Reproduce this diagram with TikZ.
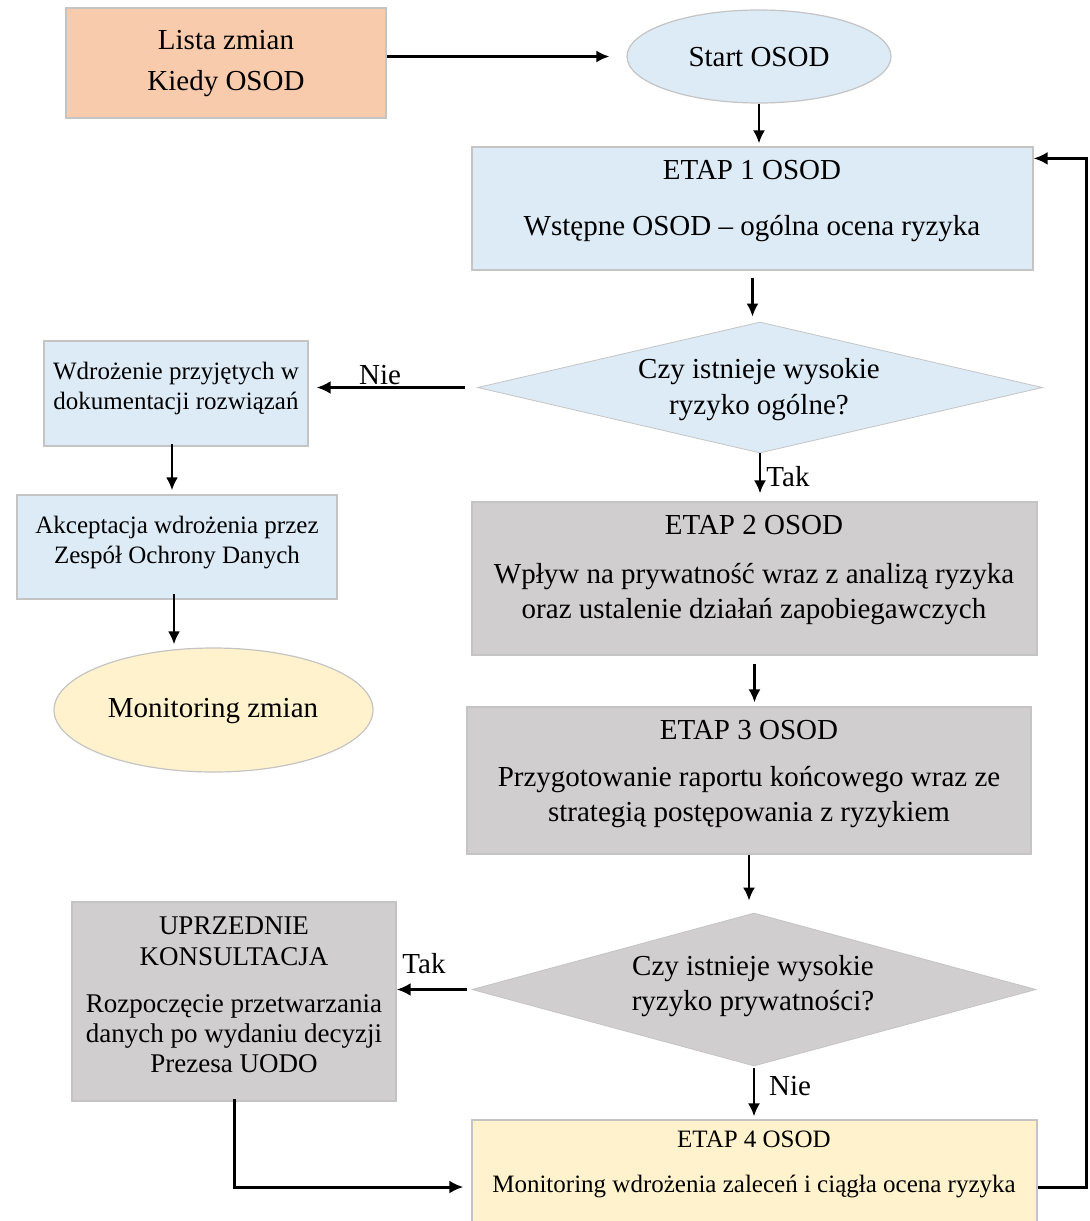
\documentclass[tikz,border=0pt]{standalone}
\usepackage{fontspec}
\setmainfont{Liberation Serif}
\usetikzlibrary{shapes.geometric,arrows.meta}
\definecolor{peach}{HTML}{F8CBAD}
\definecolor{paleblue}{HTML}{DDEBF7}
\definecolor{palegrey}{HTML}{D0CECE}
\definecolor{paleyellow}{HTML}{FFF2CC}
\definecolor{edgegrey}{HTML}{C4C4C4}

\begin{document}
\begin{tikzpicture}[x=0.5pt, y=-0.5pt,
		box/.style={shape=rectangle, draw=edgegrey, line width=0.6pt, inner sep=0pt},
		oval/.style={shape=ellipse, draw=edgegrey, line width=0.6pt, inner sep=0pt},
		decision/.style={shape=diamond, draw=edgegrey, line width=0.4pt, inner sep=0pt},
		txt/.style={align=center, inner sep=0pt, font=\fontsize{14.5}{17}\selectfont},
		txtmid/.style={align=center, inner sep=0pt, font=\fontsize{13.5}{15}\selectfont},
		txtsmall/.style={align=center, inner sep=0pt, font=\fontsize{12.5}{15}\selectfont},
		wire/.style={-{Latex[length=6.5pt,width=6pt]}, line width=1.15pt},
		heavywire/.style={-{Latex[length=7pt,width=6.5pt]}, line width=1.5pt}]
		\useasboundingbox (0, 0) rectangle (1089, 1221);
		\clip (0, 0) rectangle (1089, 1221);
		% Shapes and their texts:
		\node[box, fill=peach, minimum width=160pt, minimum height=55pt] (lista) at (226, 63){} node[txt] (listatxt) at (226, 64){Lista zmian\\[3.5pt]Kiedy OSOD};
		\node[oval, fill=paleblue, minimum width=132pt, minimum height=46.5pt] (start) at (759, 56.5){} node[txt] (starttxt) at (759, 57){Start OSOD};
		\node[box, fill=paleblue, minimum width=280.5pt, minimum height=61.5pt] (etap1) at (752.5, 208.5){} node[txt] (etap1txt) at (752, 201){ETAP 1 OSOD\\[11pt]Wstępne OSOD – ogólna ocena ryzyka};
		\node[decision, fill=paleblue, minimum width=282.5pt, minimum height=65.5pt] (ryzyko1) at (760, 387.5){} node[txt] (ryzyko1txt) at (759, 390){Czy istnieje wysokie\\[1pt]ryzyko ogólne?};
		\node[box, fill=paleblue, minimum width=132pt, minimum height=52.5pt] (wdrozenie) at (176, 393.5){} node[txtsmall] (wdrozenietxt) at (176, 388){Wdrożenie przyjętych w\\dokumentacji rozwiązań};
		\node[box, fill=paleblue, minimum width=160pt, minimum height=52pt] (akceptacja) at (177, 547){} node[txtsmall] (akceptacjatxt) at (177, 543){Akceptacja wdrożenia przez\\Zespół Ochrony Danych};
		\node[oval, fill=paleyellow, minimum width=159.5pt, minimum height=62pt] (monitoring) at (213.5, 710){} node[txt] (monitoringtxt) at (213, 711){Monitoring zmian};
		\node[box, fill=palegrey, minimum width=282.5pt, minimum height=76.5pt] (etap2) at (754.5, 578.5){} node[txt] (etap2txt) at (754, 570){ETAP 2 OSOD\\[7.5pt]Wpływ na prywatność wraz z analizą ryzyka\\[0.5pt]oraz ustalenie działań zapobiegawczych};
		\node[box, fill=palegrey, minimum width=282pt, minimum height=73.5pt] (etap3) at (749, 780.5){} node[txt] (etap3txt) at (749, 774){ETAP 3 OSOD\\[6.5pt]Przygotowanie raportu końcowego wraz ze\\[0.5pt]strategią postępowania z ryzykiem};
		\node[decision, fill=palegrey, minimum width=282pt, minimum height=76.5pt] (ryzyko2) at (754, 989.5){} node[txt] (ryzyko2txt) at (753, 986){Czy istnieje wysokie\\[0.5pt]ryzyko prywatności?};
		\node[box, fill=palegrey, minimum width=162pt, minimum height=99.5pt] (uprzednie) at (234, 1001.5){} node[txtmid] (uprzednietxt) at (234, 995){UPRZEDNIE\\[0.5pt]KONSULTACJA\\[8.5pt]Rozpoczęcie przetwarzania\\danych po wydaniu decyzji\\Prezesa UODO};
		\node[box, fill=paleyellow, minimum width=282.5pt, minimum height=67pt] (etap4) at (754.5, 1187){} node[txtsmall] (etap4txt) at (754, 1164.5){ETAP 4 OSOD\\[7.5pt]Monitoring wdrożenia zaleceń i ciągła ocena ryzyka};
		% Connectors:
		\draw[wire, shorten >=8.5pt] (lista.east |- start) -- (start.west);
		\draw[wire, shorten >=1.5pt] (start.south) -- (start.south |- etap1.north);
		\draw[wire, shorten <=3.5pt, shorten >=2.5pt] (etap1.south) -- (etap1.south |- ryzyko1.north);
		\draw[heavywire, shorten <=6pt, shorten >=4pt] (ryzyko1.west) -- (ryzyko1.west -| wdrozenie.east);
		\node[txt] (nie1) at (380, 375){Nie};
		\draw[wire, line width=1.4pt, shorten <=-1.5pt, shorten >=2pt] ([xshift=-2pt]wdrozenie.south) -- ([xshift=-2pt]wdrozenie.south |- akceptacja.north);
		\draw[wire, line width=1.4pt, shorten <=-3pt, shorten >=1.5pt] ([xshift=-1.5pt]akceptacja.south) -- ([xshift=-1.5pt]akceptacja.south |- monitoring.north);
		\draw[wire, shorten >=4pt] (ryzyko1.south) -- (ryzyko1.south |- etap2.north);
		\node[txt] (tak1) at (788, 477){Tak};
		\draw[wire, shorten <=4pt, shorten >=2pt] (etap2.south) -- (etap2.south |- etap3.north);
		\draw[wire, shorten >=6pt] (etap3.south) -- (etap3.south |- ryzyko2.north);
		\draw[heavywire, shorten <=2.5pt] (ryzyko2.west) -- (ryzyko2.west -| uprzednie.east);
		\node[txt] (tak2) at (424, 964){Tak};
		\draw[wire, shorten <=1pt, shorten >=1.5pt] (ryzyko2.south) -- (ryzyko2.south |- etap4.north);
		\node[txt] (nie2) at (790, 1086){Nie};
		\draw[heavywire, shorten <=-1.5pt, shorten >=4pt] (uprzednie.south) |- (etap4.west);
		\draw[heavywire] (etap4.east) -- ++(49, 0) |- ([yshift=-6pt]etap1.north east);
	\end{tikzpicture}
\end{document}
